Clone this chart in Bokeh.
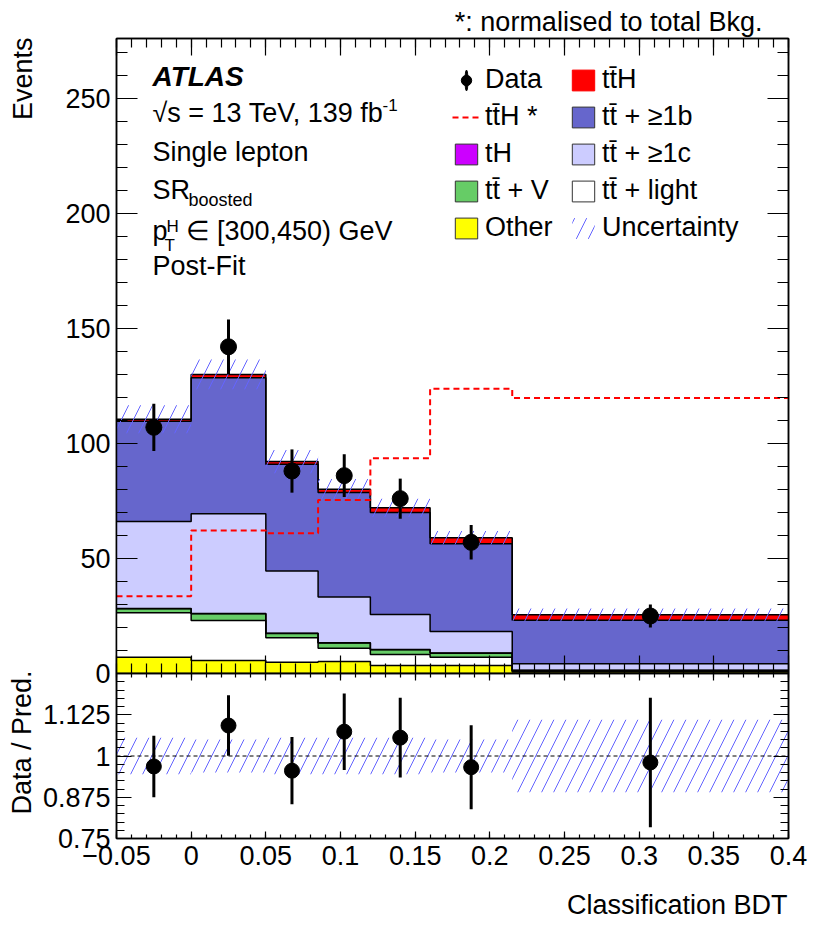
import numpy as np
from bokeh.plotting import figure
from bokeh.models import (ColumnDataSource, Range1d, LinearAxis, FixedTicker, Title,
                          Label, Legend, LegendItem, Span, CustomJSTickFormatter)
from bokeh.layouts import column
from bokeh.embed import file_html
from bokeh.resources import INLINE

# ---------------- data ----------------
edges = [-0.05, 0.0, 0.05, 0.085, 0.12, 0.16, 0.215, 0.4]
other = [7.1, 5.7, 4.9, 5.2, 3.5, 3.5, 0.7]
tt_light = [19.3, 17.3, 10.6, 5.8, 4.8, 3.6, 0.3]
ttV = [1.7, 3.0, 1.9, 2.3, 2.0, 1.7, 0.3]
tH = [0.1, 0.1, 0.1, 0.1, 0.1, 0.1, 0.1]
tt_1c = [37.9, 43.3, 27.0, 19.9, 15.2, 9.4, 2.8]
tt_1b = [43.5, 59.1, 46.4, 45.4, 44.4, 38.1, 18.9]
ttH = [0.9, 1.5, 1.2, 1.4, 2.0, 2.6, 2.4]
ttH_norm = [33.6, 62.2, 61.0, 75.4, 93.6, 123.8, 119.7]
data = [107, 142, 88, 86, 76, 57, 25]
data_err = [10.3, 11.9, 9.4, 9.3, 8.7, 7.5, 5.0]
rel_unc = [0.055, 0.05, 0.055, 0.055, 0.055, 0.05, 0.11]

x_ticks = [-0.05, 0.0, 0.05, 0.1, 0.15, 0.2, 0.25, 0.3, 0.35, 0.4]
x_tick_labels = ["\u22120.05", "0", "0.05", "0.1", "0.15", "0.2", "0.25", "0.3", "0.35", "0.4"]
y_ticks = [0, 50, 100, 150, 200, 250]
r_ticks = [0.75, 0.875, 1.0, 1.125, 1.25]
r_tick_labels = ["0.75", "0.875", "1", "1.125", ""]

TT = "tt\u0304"
comp_names = ["Other", TT + " + light", TT + " + V", "tH", TT + " + \u22651c", TT + " + \u22651b", TT + "H"]
comp_vals = [other, tt_light, ttV, tH, tt_1c, tt_1b, ttH]
comp_colors = ["#ffff00", "#ffffff", "#66cc66", "#cc00ff", "#ccccff", "#6666cc", "#ff0000"]

FONT = "Liberation Sans"
FS = "27px"
HATCH = "#6464ff"
HSCALE = 24

edges_a = np.array(edges)
centers = 0.5 * (edges_a[:-1] + edges_a[1:])
stack = np.cumsum(np.array(comp_vals), axis=0)
total = stack[-1]
data_a = np.array(data, dtype=float)
err_a = np.array(data_err)
rel_a = np.array(rel_unc)


def ext(a):
    a = list(a)
    return a + [a[-1]]


def style_axis(ax, major_in, minor_in, labels=True, standoff=6):
    ax.major_tick_in = major_in
    ax.major_tick_out = 0
    ax.minor_tick_in = minor_in
    ax.minor_tick_out = 0
    ax.axis_line_width = 1.5
    ax.major_tick_line_width = 1.2
    ax.minor_tick_line_width = 1.2
    ax.axis_line_color = "black"
    ax.major_tick_line_color = "black"
    ax.minor_tick_line_color = "black"
    ax.major_label_text_font = FONT
    ax.major_label_text_color = "black"
    if labels:
        ax.major_label_text_font_size = FS
        ax.major_label_standoff = standoff
    else:
        ax.formatter = CustomJSTickFormatter(code="return ''")
        ax.major_label_text_font_size = "2px"
        ax.major_label_standoff = 0


def spacer(fig, ticker, side, gap):
    # invisible axis used only to reserve space between an axis and a title
    ax = LinearAxis(ticker=ticker)
    ax.formatter = CustomJSTickFormatter(code="return ''")
    ax.major_label_text_font_size = "2px"
    ax.major_label_standoff = 0
    ax.axis_line_color = None
    ax.major_tick_line_color = None
    ax.minor_tick_line_color = None
    ax.major_tick_in = 0
    ax.major_tick_out = gap
    ax.minor_tick_in = 0
    ax.minor_tick_out = 0
    fig.add_layout(ax, side)


def title(fig, text, side, align, valign, offset=0, standoff=10):
    fig.add_layout(Title(text=text, align=align, vertical_align=valign, offset=offset,
                         standoff=standoff, text_font=FONT, text_font_size=FS,
                         text_font_style="normal", text_color="black"), side)


YREF = 684


def lab(fig, text, x, page_y, size=FS, style="normal", align="left"):
    fig.add_layout(Label(x=x, y=YREF - page_y, x_units="screen", y_units="screen", text=text,
                         text_font=FONT, text_font_size=size, text_font_style=style,
                         text_align=align, text_baseline="alphabetic", text_color="black"))


x_minor = [round(-0.05 + 0.01 * i, 3) for i in range(46)]

# ---------------- main panel ----------------
p = figure(width=822, height=689, x_range=Range1d(-0.05, 0.4), y_range=Range1d(0, 276),
           output_backend="svg", toolbar_location=None,
           min_border_left=116, min_border_right=34, min_border_top=38, min_border_bottom=16)
p.grid.visible = False
p.outline_line_color = "black"
p.outline_line_width = 1.5
p.border_fill_color = "white"

xt = FixedTicker(ticks=x_ticks, minor_ticks=x_minor)
yt = FixedTicker(ticks=y_ticks, minor_ticks=list(range(0, 280, 10)))
p.xaxis.ticker = xt
p.yaxis.ticker = yt
style_axis(p.xaxis[0], 18, 10, labels=False)
style_axis(p.yaxis[0], 21, 11, labels=True, standoff=6)
ax_top = LinearAxis(ticker=xt)
style_axis(ax_top, 17, 9, labels=False)
p.add_layout(ax_top, "above")
ax_r = LinearAxis(ticker=yt)
style_axis(ax_r, 21, 11, labels=False)
p.add_layout(ax_r, "right")

prev = np.zeros(len(centers))
for col, top in zip(comp_colors, stack):
    p.varea_step(x=edges, y1=ext(prev), y2=ext(top), step_mode="after", fill_color=col)
    prev = top
for top in stack:
    p.step(x=edges, y=ext(top), mode="after", line_color="black", line_width=1.5)

unc_src = ColumnDataSource(dict(left=edges[:-1], right=edges[1:],
                                bottom=total * (1 - rel_a), top=total * (1 + rel_a)))
unc_r = p.quad(left="left", right="right", bottom="bottom", top="top", source=unc_src,
               fill_color=None, line_color=None, hatch_pattern="/", hatch_color=HATCH,
               hatch_scale=HSCALE, hatch_weight=1)

norm_r = p.step(x=edges, y=ext(ttH_norm), mode="after", line_color="#ff0000",
                line_dash="6 4", line_width=2)

dsrc = ColumnDataSource(dict(x=centers, y=data_a, lo=data_a - err_a, hi=data_a + err_a))
p.segment(x0="x", y0="lo", x1="x", y1="hi", source=dsrc, line_width=3, line_color="black")
data_r = p.scatter(x="x", y="y", source=dsrc, size=16, marker="circle",
                   fill_color="black", line_color="black")

# legend-only swatches (no coordinates)
nan = [float("nan")]
bar_proxy = p.ellipse(x=nan, y=nan, width=3, height=21, width_units="screen",
                      height_units="screen", fill_color="black", line_color="black")
proxies = {}
for name, col in zip(comp_names, comp_colors):
    lc = "#ff0000" if col == "#ff0000" else "#333333"
    proxies[name] = p.quad(left=nan, right=nan, bottom=nan, top=nan,
                           fill_color=col, line_color=lc, line_width=1)

items = [
    LegendItem(label="Data", renderers=[bar_proxy, data_r]),
    LegendItem(label=TT + "H *", renderers=[norm_r]),
    LegendItem(label="tH", renderers=[proxies["tH"]]),
    LegendItem(label=TT + " + V", renderers=[proxies[TT + " + V"]]),
    LegendItem(label="Other", renderers=[proxies["Other"]]),
    LegendItem(label=TT + "H", renderers=[proxies[TT + "H"]]),
    LegendItem(label=TT + " + \u22651b", renderers=[proxies[TT + " + \u22651b"]]),
    LegendItem(label=TT + " + \u22651c", renderers=[proxies[TT + " + \u22651c"]]),
    LegendItem(label=TT + " + light", renderers=[proxies[TT + " + light"]]),
    LegendItem(label="Uncertainty", renderers=[unc_r]),
]
legend = Legend(items=items, location=(336, 430), ncols=2, orientation="vertical",
                glyph_width=28, glyph_height=26, label_standoff=5, label_width=78,
                spacing=6, padding=0, margin=0, border_line_color=None,
                background_fill_alpha=0, label_text_font=FONT, label_text_font_size=FS,
                label_text_color="black", label_height=26)
p.add_layout(legend)

lab(p, "ATLAS", 36, 87, size="28px", style="bold italic")
lab(p, "\u221as = 13 TeV, 139 fb", 36, 123)
lab(p, "-1", 266, 115, size="17px")
lab(p, "Single lepton", 36, 162)
lab(p, "SR", 36, 200)
lab(p, "boosted", 72, 210, size="18px")
lab(p, "p", 36, 241)
lab(p, "H", 50, 237, size="17px")
lab(p, "T", 48, 256, size="17px")
lab(p, "\u2208 [300,450) GeV", 69, 241)
lab(p, "Post-Fit", 36, 276)

title(p, "*: normalised to total Bkg.", "above", "right", "bottom", offset=26, standoff=4)
spacer(p, yt, "left", 21)
title(p, "Events", "left", "right", "top", offset=-1, standoff=4)

# ---------------- ratio panel ----------------
p2 = figure(width=822, height=267, x_range=p.x_range, y_range=Range1d(0.75, 1.25),
            output_backend="svg", toolbar_location=None,
            min_border_left=116, min_border_right=34, min_border_top=12, min_border_bottom=90)
p2.margin = (-28, 0, 0, 0)
p2.grid.visible = False
p2.outline_line_color = "black"
p2.outline_line_width = 1.5
p2.border_fill_color = None
p2.background_fill_color = "white"

rt = FixedTicker(ticks=r_ticks, minor_ticks=[round(0.75 + 0.025 * i, 3) for i in range(21)])
p2.xaxis.ticker = xt
p2.yaxis.ticker = rt
style_axis(p2.xaxis[0], 7, 4, labels=True, standoff=7)
style_axis(p2.yaxis[0], 15, 8, labels=True, standoff=6)
p2.xaxis[0].major_label_overrides = {t: s for t, s in zip(x_ticks, x_tick_labels)}
p2.yaxis[0].major_label_overrides = {t: s for t, s in zip(r_ticks, r_tick_labels)}
ax2_top = LinearAxis(ticker=xt)
style_axis(ax2_top, 7, 4, labels=False)
p2.add_layout(ax2_top, "above")
ax2_r = LinearAxis(ticker=rt)
style_axis(ax2_r, 15, 8, labels=False)
p2.add_layout(ax2_r, "right")

rsrc = ColumnDataSource(dict(left=edges[:-1], right=edges[1:], bottom=1 - rel_a, top=1 + rel_a))
p2.quad(left="left", right="right", bottom="bottom", top="top", source=rsrc,
        fill_color=None, line_color=None, hatch_pattern="/", hatch_color=HATCH,
        hatch_scale=HSCALE, hatch_weight=1)
p2.add_layout(Span(location=1.0, dimension="width", line_color="black",
                   line_dash="4 3", line_width=1))
ratio = data_a / total
rerr = err_a / total
r2src = ColumnDataSource(dict(x=centers, y=ratio, lo=ratio - rerr, hi=ratio + rerr))
p2.segment(x0="x", y0="lo", x1="x", y1="hi", source=r2src, line_width=3, line_color="black")
p2.scatter(x="x", y="y", source=r2src, size=15, marker="circle",
           fill_color="black", line_color="black")

title(p2, "Data / Pred.", "left", "right", "bottom", offset=-3, standoff=5)
spacer(p2, xt, "below", 20)
title(p2, "Classification BDT", "below", "right", "top", offset=1, standoff=4)

layout = column(p, p2)
open("out.html", "w").write(file_html(layout, INLINE))
